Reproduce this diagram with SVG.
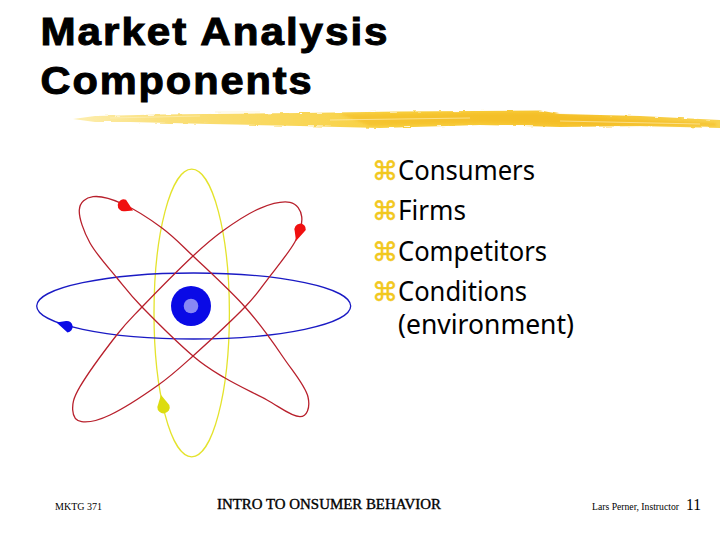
<svg xmlns="http://www.w3.org/2000/svg" width="720" height="540" viewBox="0 0 720 540">
<style>
.title{font-family:"Liberation Sans",sans-serif;font-weight:bold;font-size:39px;letter-spacing:1.8px;fill:#000;stroke:#000;stroke-width:1}
.body{font-family:"Noto Sans",sans-serif;font-size:27px;fill:#000}
.bullet{font-family:"DejaVu Sans",sans-serif;font-size:26px;fill:#f2c81e;stroke:#f2c81e;stroke-width:.5}
.orbit{fill:none;stroke-width:1.3}
.foot{font-family:"Liberation Serif",serif;fill:#000}
</style>
<defs>
<linearGradient id="brush" x1="0" x2="1" y1="0" y2="0">
<stop offset="0" stop-color="#fdeeb0"/><stop offset="0.15" stop-color="#fadf78"/><stop offset="0.5" stop-color="#f8d040"/><stop offset="0.8" stop-color="#f6c430"/><stop offset="1" stop-color="#f8d350"/>
</linearGradient>
<filter id="rough" x="-2%" y="-50%" width="104%" height="200%">
<feTurbulence type="fractalNoise" baseFrequency="0.08 0.6" numOctaves="3" seed="4"/>
<feDisplacementMap in="SourceGraphic" scale="3"/>
<feGaussianBlur stdDeviation=".5"/>
</filter>
<filter id="soft" x="-2%" y="-50%" width="104%" height="200%">
<feGaussianBlur stdDeviation="1.200"/>
</filter>
</defs>
<rect width="720" height="540" fill="#fff"/>
<g id="title">
<text class="title" x="40.500" y="45" textLength="349" lengthAdjust="spacingAndGlyphs">Market Analysis</text>
<text class="title" x="40.500" y="94" textLength="273" lengthAdjust="spacingAndGlyphs">Components</text>
</g>
<g id="brush-rule">
<path filter="url(#rough)" fill="url(#brush)" d="M73 119 L95 116 L160 114.500 L205 114 L300 113 L400 111.500 L540 110.500 L560 114 L640 116 L720 120 L720 128 L640 126 L560 127 L480 125 L380 128 L300 126 L210 124 L130 122 L95 122 Z"/>
<path filter="url(#soft)" fill="#f3b81e" opacity=".5" d="M340 114 L450 113 L540 113 L620 119 L716 123 L716 126 L600 125 L480 123 L370 126 Z"/>
<path fill="none" stroke="#fdf0c0" stroke-width=".7" opacity=".9" d="M110 118 L200 116 M215 112 L260 112 M330 120 L470 118 M560 121 L700 124"/>
</g>
<g id="atom">
<ellipse class="orbit" cx="191.700" cy="313" rx="37.700" ry="143.800" stroke="#e4e32c"/>
<ellipse class="orbit" cx="193.700" cy="306" rx="157" ry="33" stroke="#1a1ac4"/>
<path class="orbit" stroke="#b8202c" d="M79.300 210C79.800 202.300 85.700 197.700 93 196.700C100.300 195.700 111.500 198.800 123 204C134.500 209.200 150.300 219.300 162 228C173.700 236.700 179.200 242.800 193 256C206.800 269.200 230 290.200 245 307C260 323.800 272.500 341.500 283 357C293.500 372.500 305.500 386 308 397C310.500 408 306.800 416.700 300 416.700C291.200 416.700 279.200 406.500 267 400C254.800 393.500 237.300 385.300 225 378C212.700 370.700 206.800 367.800 193 356C179.200 344.200 154.700 320 142 307C129.300 294 125.700 288.700 117 278C108.300 267.300 96.300 254.300 90 243C83.700 231.700 78.800 217.700 79.300 210Z"/>
<path class="orbit" stroke="#b8202c" d="M301.700 216.700C300.900 210.100 297 203.700 290 202.300C283 200.900 271.200 203.600 260 208.300C248.800 213 234.200 222.700 223 230.700C211.800 238.700 206.500 243.300 193 256C179.500 268.700 154.700 293.800 142 307C129.300 320.200 127 321.700 116.700 335C106.400 348.300 87.300 374.200 80 386.700C72.700 399.200 72.400 404.200 72.700 410C73 415.800 75.500 420.900 81.700 421.700C87.900 422.500 97.200 421.100 110 415C122.800 408.900 144.500 394.800 158.300 385C172.100 375.200 178.600 369 193 356C207.400 343 232.400 320 245 307C257.600 294 260 289.200 268.300 278.300C276.600 267.400 289.400 252 295 241.700C300.600 231.400 302.500 223.300 301.700 216.700Z"/>
<circle cx="191" cy="306" r="20" fill="#0a0ae6"/>
<circle cx="191" cy="306" r="7.300" fill="#8888f4"/>
<path id="electron-red-1" fill="#f01010" d="M133 210.500 L125 211.200 A6 6 0 1 1 126 199.800 Z"/>
<path id="electron-red-2" fill="#f01010" d="M296 241 L294.700 231 A5.700 5.700 0 1 1 305.800 230 Z"/>
<path id="electron-blue" fill="#0a0ae6" d="M56.500 322.500 L66 321 A5.800 5.800 0 1 1 67.500 332.500 Z"/>
<path id="electron-yellow" fill="#dcdc10" d="M161 395 L169.300 405 A6.200 6.200 0 1 1 157.300 407 Z"/>
</g>
<g id="bullets">
<text class="bullet" x="372" y="180">⌘</text>
<text class="body" x="398" y="180" textLength="137" lengthAdjust="spacingAndGlyphs">Consumers</text>
<text class="bullet" x="372" y="220">⌘</text>
<text class="body" x="398" y="220" textLength="68" lengthAdjust="spacingAndGlyphs">Firms</text>
<text class="bullet" x="372" y="261">⌘</text>
<text class="body" x="398" y="261" textLength="149" lengthAdjust="spacingAndGlyphs">Competitors</text>
<text class="bullet" x="372" y="301">⌘</text>
<text class="body" x="398" y="301" textLength="129" lengthAdjust="spacingAndGlyphs">Conditions</text>
<text class="body" x="398" y="334" textLength="176" lengthAdjust="spacingAndGlyphs">(environment)</text>
</g>
<g id="footer">
<text class="foot" x="55" y="510" font-size="10.500" textLength="47" lengthAdjust="spacingAndGlyphs">MKTG 371</text>
<text class="foot" x="217" y="509" font-size="14" stroke="#000" stroke-width=".35" textLength="224" lengthAdjust="spacingAndGlyphs">INTRO TO ONSUMER BEHAVIOR</text>
<text class="foot" x="592" y="510" font-size="10.500" textLength="87" lengthAdjust="spacingAndGlyphs">Lars Perner, Instructor</text>
<text class="foot" x="686" y="510" font-size="17" textLength="15" lengthAdjust="spacingAndGlyphs">11</text>
</g>
</svg>
